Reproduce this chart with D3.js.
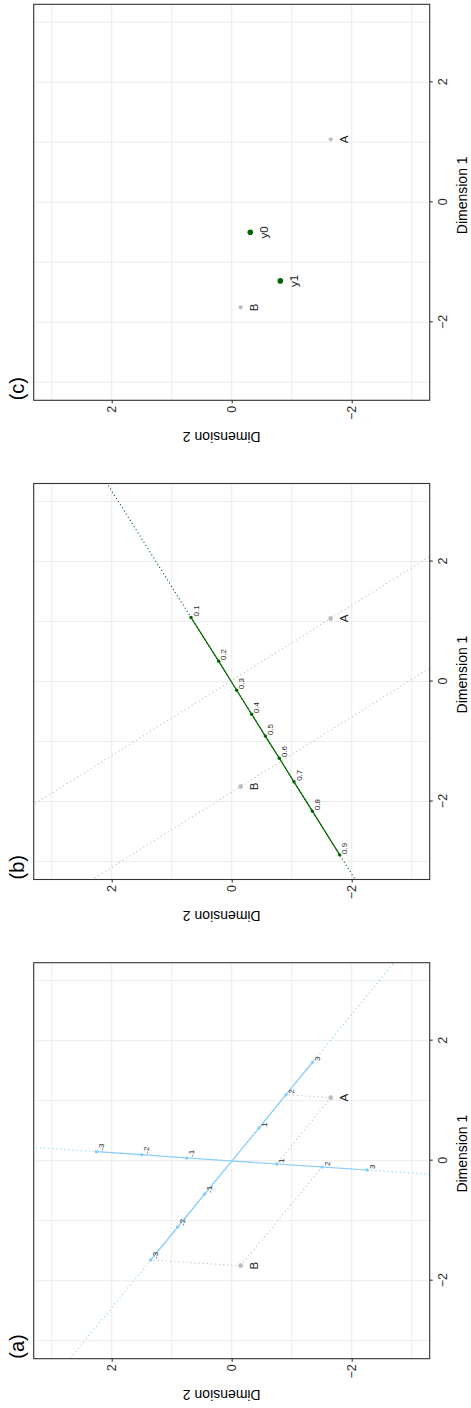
<!DOCTYPE html>
<html>
<head>
<meta charset="utf-8">
<script src="https://cdn.jsdelivr.net/npm/d3@7"></script>
<style>
  body { margin: 0; background: #fff; }
</style>
</head>
<body>
<div id="chart"></div>
<script>

// the two observed points
var pointNames = ["A", "B"];
var pointDim1 = [1.05, -1.75];
var pointDim2 = [-1.65, -0.15];

// (a) calibrated axes, marker positions
var axis1Ticks = [-3, -2, -1, 1, 2, 3];
var axis1Dim1 = [-1.655, -1.105, -0.555, 0.545, 1.1, 1.645];
var axis1Dim2 = [1.35, 0.9, 0.45, -0.455, -0.905, -1.35];
var axis2Ticks = [-3, -2, -1, 1, 2, 3];
var axis2Dim1 = [0.15, 0.1, 0.045, -0.055, -0.105, -0.155];
var axis2Dim2 = [2.256, 1.5, 0.75, -0.75, -1.505, -2.256];

// (a) dotted lines from the points to axis markers
var projFrom = ["A", "A", "B", "B"];
var projAxis = [1, 2, 1, 2];
var projTick = [2, 1, -3, 2];

// (b) probability scale
var probLabels = ["0.1", "0.2", "0.3", "0.4", "0.5", "0.6", "0.7", "0.8", "0.9"];
var probDim1 = [1.067, 0.339, -0.145, -0.545, -0.91, -1.278, -1.672, -2.161, -2.89];
var probDim2 = [0.678, 0.217, -0.083, -0.333, -0.56, -0.793, -1.038, -1.344, -1.8];

// (c) new points
var newNames = ["y0", "y1"];
var newDim1 = [-0.5, -1.31];
var newDim2 = [-0.31, -0.81];

var majorTicks = [-2, 0, 2];
var minorTicks = [-3, -1, 1, 3];
var panelTags = ["(a)", "(b)", "(c)"];

var W = 1408, H = 471;
var size = 396;
var panelTop = 33.7;
var panelLeft = [49.3, 528.5, 1007.7];
var font = "Liberation Sans, Arial, Helvetica, sans-serif";

var blue = "#87CEFA", green = "#006400", grey = "#BEBEBE";

// figure is drawn landscape, then turned a quarter left
var svg = d3.select("#chart")
  .append("svg")
  .attr("width", H)
  .attr("height", W);

var defs = svg.append("defs");
defs.append("clipPath")
  .attr("id", "panel-clip")
  .append("rect")
  .attr("width", size)
  .attr("height", size);

var fig = svg.append("g")
  .attr("transform", "translate(0," + W + ") rotate(-90)")
  .attr("font-family", font);

var x = d3.scaleLinear().domain([-3.3, 3.3]).range([0, size]);
var y = d3.scaleLinear().domain([-3.3, 3.3]).range([size, 0]);

var line = d3.line()
  .x(function (d) { return x(d[0]); })
  .y(function (d) { return y(d[1]); });

var fmt = function (d) {
  return d < 0 ? "\u2212" + Math.abs(d) : String(d);
};

function pairs(a, b) {
  return a.map(function (v, k) { return [v, b[k]]; });
}

// long line through p and q, clipped later
function extend(p, q) {
  var dx = q[0] - p[0], dy = q[1] - p[1];
  return [[p[0] - 10 * dx, p[1] - 10 * dy], [q[0] + 10 * dx, q[1] + 10 * dy]];
}

function grid(g, ticks, width) {
  g.selectAll(null)
    .data(ticks)
    .enter()
    .append("line")
    .attr("x1", function (d) { return x(d); })
    .attr("x2", function (d) { return x(d); })
    .attr("y1", 0)
    .attr("y2", size)
    .attr("stroke", "#EBEBEB")
    .attr("stroke-width", width);
  g.selectAll(null)
    .data(ticks)
    .enter()
    .append("line")
    .attr("y1", function (d) { return y(d); })
    .attr("y2", function (d) { return y(d); })
    .attr("x1", 0)
    .attr("x2", size)
    .attr("stroke", "#EBEBEB")
    .attr("stroke-width", width);
}

function makePanel(i) {
  var g = fig.append("g")
    .attr("transform", "translate(" + panelLeft[i] + "," + panelTop + ")");

  grid(g, minorTicks, 0.9);
  grid(g, majorTicks, 1.1);

  // X-Axis
  var xAxis = g.append("g")
    .attr("transform", "translate(0," + size + ")")
    .call(d3.axisBottom(x).tickValues(majorTicks).tickSize(3).tickPadding(5.6).tickFormat(fmt));
  xAxis.select(".domain").remove();
  xAxis.selectAll("line").attr("stroke", "#333").attr("stroke-width", 1.1);
  xAxis.attr("font-size", 12.5).attr("font-family", font);
  xAxis.selectAll("text").attr("fill", "#2a2a2a");

  // Y-Axis
  var yAxis = g.append("g")
    .call(d3.axisLeft(y).tickValues(majorTicks).tickSize(3).tickPadding(2.5).tickFormat(fmt));
  yAxis.select(".domain").remove();
  yAxis.selectAll("line").attr("stroke", "#333").attr("stroke-width", 1.1);
  yAxis.attr("font-size", 12.5).attr("font-family", font);
  yAxis.selectAll("text").attr("fill", "#2a2a2a");

  g.append("text")
    .attr("x", size / 2 + 7)
    .attr("y", 467 - panelTop)
    .attr("text-anchor", "middle")
    .attr("font-size", 14)
    .text("Dimension 1");

  g.append("text")
    .attr("transform", "translate(-31.4," + (221.7 - panelTop) + ") rotate(-90)")
    .attr("text-anchor", "middle")
    .attr("font-size", 14)
    .text("Dimension 2");

  g.append("text")
    .attr("x", 0)
    .attr("y", 23.8 - panelTop)
    .attr("font-size", 20)
    .text(panelTags[i]);

  var data = g.append("g").attr("clip-path", "url(#panel-clip)");
  return { g: g, data: data };
}

function drawPoints(layer, names, d1, d2, r, color) {
  var pts = names.map(function (n, k) { return { name: n, d1: d1[k], d2: d2[k] }; });
  layer.selectAll(null)
    .data(pts)
    .enter()
    .append("circle")
    .attr("cx", function (d) { return x(d.d1); })
    .attr("cy", function (d) { return y(d.d2); })
    .attr("r", r)
    .attr("fill", color);
  layer.selectAll(null)
    .data(pts)
    .enter()
    .append("text")
    .attr("x", function (d) { return x(d.d1); })
    .attr("y", function (d) { return y(d.d2) + 17.7; })
    .attr("text-anchor", "middle")
    .attr("font-size", 11.5)
    .attr("fill", "#1a1a1a")
    .text(function (d) { return d.name; });
}

function drawMarkers(layer, pts, labels, r, color) {
  layer.selectAll(null)
    .data(pts)
    .enter()
    .append("circle")
    .attr("cx", function (d) { return x(d[0]); })
    .attr("cy", function (d) { return y(d[1]); })
    .attr("r", r)
    .attr("fill", color);
  layer.selectAll(null)
    .data(pts)
    .enter()
    .append("text")
    .attr("x", function (d) { return x(d[0]) + 1; })
    .attr("y", function (d) { return y(d[1]) + 7.8; })
    .attr("font-size", 8)
    .attr("fill", "#2a2a2a")
    .text(function (d, k) { return labels[k]; });
}

var points = pairs(pointDim1, pointDim2);
var axis1 = pairs(axis1Dim1, axis1Dim2);
var axis2 = pairs(axis2Dim1, axis2Dim2);
var prob = pairs(probDim1, probDim2);

// ---------- (a)
var pa = makePanel(0);

[axis1, axis2].forEach(function (ax) {
  pa.data.append("path")
    .attr("d", line(extend(ax[0], ax[ax.length - 1])))
    .attr("fill", "none")
    .attr("stroke", blue)
    .attr("stroke-width", 1.1)
    .attr("stroke-dasharray", "1.1 3");
});

projFrom.forEach(function (name, k) {
  var p = points[pointNames.indexOf(name)];
  var q = projAxis[k] === 1
    ? axis1[axis1Ticks.indexOf(projTick[k])]
    : axis2[axis2Ticks.indexOf(projTick[k])];
  pa.data.append("path")
    .attr("d", line([p, q]))
    .attr("fill", "none")
    .attr("stroke", grey)
    .attr("stroke-width", 1.1)
    .attr("stroke-dasharray", "1.1 3");
});

[axis1, axis2].forEach(function (ax) {
  pa.data.append("path")
    .attr("d", line(ax))
    .attr("fill", "none")
    .attr("stroke", blue)
    .attr("stroke-width", 1.2);
});

drawMarkers(pa.data, axis1, axis1Ticks.map(String), 1.7, blue);
drawMarkers(pa.data, axis2, axis2Ticks.map(String), 1.7, blue);
drawPoints(pa.data, pointNames, pointDim1, pointDim2, 2.4, grey);

// ---------- (b)
var pb = makePanel(1);

var first = prob[0], last = prob[prob.length - 1];
pb.data.append("path")
  .attr("d", line(extend(first, last)))
  .attr("fill", "none")
  .attr("stroke", green)
  .attr("stroke-width", 1.1)
  .attr("stroke-dasharray", "1.1 2.6");

// lines through A and B at right angles to the scale
var dir = [last[0] - first[0], last[1] - first[1]];
points.forEach(function (p) {
  var q = [p[0] + dir[1], p[1] - dir[0]];
  pb.data.append("path")
    .attr("d", line(extend(p, q)))
    .attr("fill", "none")
    .attr("stroke", grey)
    .attr("stroke-width", 1.1)
    .attr("stroke-dasharray", "1.1 3");
});

pb.data.append("path")
  .attr("d", line(prob))
  .attr("fill", "none")
  .attr("stroke", green)
  .attr("stroke-width", 1.2);

drawMarkers(pb.data, prob, probLabels, 1.7, green);
drawPoints(pb.data, pointNames, pointDim1, pointDim2, 2.4, grey);

// ---------- (c)
var pc = makePanel(2);
drawPoints(pc.data, pointNames, pointDim1, pointDim2, 2.1, grey);
drawPoints(pc.data, newNames, newDim1, newDim2, 2.8, green);

// panel borders on top
[pa, pb, pc].forEach(function (p) {
  p.g.append("rect")
    .attr("width", size)
    .attr("height", size)
    .attr("fill", "none")
    .attr("stroke", "#333")
    .attr("stroke-width", 1.1);
});

</script>
</body>
</html>
